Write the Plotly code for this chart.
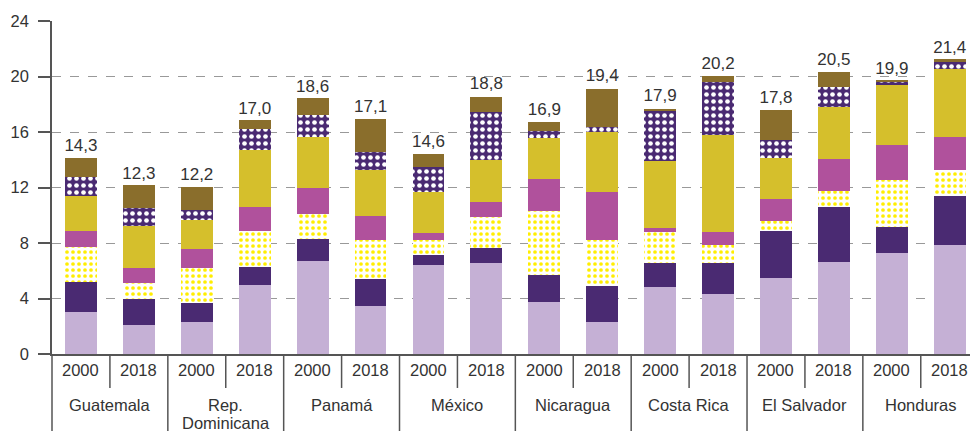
import plotly.graph_objects as go

countries = ["Guatemala", "Rep.<br>Dominicana", "Panamá", "México", "Nicaragua", "Costa Rica", "El Salvador", "Honduras"]
years = ["2000", "2018"]

# segment values per bar (bottom -> top), order: country x year
seg1 = [3.06, 2.11, 2.32, 4.95, 6.72, 3.49, 6.41, 6.53, 3.78, 2.32, 4.86, 4.33, 5.48, 6.65, 7.30, 7.89]
seg2 = [2.16, 1.86, 1.34, 1.34, 1.58, 1.89, 0.70, 1.13, 1.89, 2.61, 1.67, 2.20, 3.37, 3.95, 1.84, 3.47]
seg3 = [2.46, 1.17, 2.56, 2.56, 1.82, 2.83, 1.10, 2.22, 4.64, 3.30, 2.23, 1.36, 0.72, 1.17, 3.37, 1.92]
seg4 = [1.15, 1.06, 1.34, 1.75, 1.87, 1.74, 0.52, 1.05, 2.30, 3.42, 0.35, 0.87, 1.58, 2.32, 2.54, 2.39]
seg5 = [2.53, 3.06, 2.11, 4.11, 3.68, 3.30, 2.92, 3.04, 2.96, 4.33, 4.77, 7.03, 2.96, 3.69, 4.33, 4.90]
seg6 = [1.39, 1.24, 0.74, 1.49, 1.58, 1.34, 1.82, 3.49, 0.53, 0.36, 3.61, 3.78, 1.34, 1.48, 0.24, 0.48]
seg7 = [1.36, 1.70, 1.60, 0.67, 1.17, 2.37, 0.96, 1.06, 0.62, 2.77, 0.19, 0.45, 2.16, 1.07, 0.07, 0.22]
totals = [14.3, 12.3, 12.2, 17.0, 18.6, 17.1, 14.6, 18.8, 16.9, 19.4, 17.9, 20.2, 17.8, 20.5, 19.9, 21.4]
y_ticks = [0, 4, 8, 12, 16, 20, 24]

cats = [f"{c}|{y}" for c in countries for y in years]
year_labels = [y for _ in countries for y in years]

FONT = "Liberation Sans, Arial, sans-serif"
TXT = "#333333"
AX = "#555555"

segments = [
    (seg1, dict(color="#C5B0D5")),
    (seg2, dict(color="#4A2A72")),
    (seg3, dict(color="white", pattern=dict(shape=".", fgcolor="#FFEE00", bgcolor="white", size=6, solidity=0.3, fillmode="replace"))),
    (seg4, dict(color="#B0519C")),
    (seg5, dict(color="#D5BF2C")),
    (seg6, dict(color="#4A2A72", pattern=dict(shape=".", fgcolor="white", bgcolor="#4A2A72", size=7, solidity=0.35, fillmode="replace"))),
    (seg7, dict(color="#8A6E2C")),
]

fig = go.Figure()
for vals, mk in segments:
    mk = dict(mk)
    mk["line"] = dict(width=0)
    fig.add_trace(go.Bar(x=cats, y=vals, marker=mk, showlegend=False, hoverinfo="skip"))

fig.add_trace(go.Scatter(
    x=cats, y=totals, mode="text",
    text=[f"{t:.1f}".replace(".", ",") for t in totals],
    textposition="top center",
    textfont=dict(family=FONT, size=17, color=TXT),
    showlegend=False, hoverinfo="skip", cliponaxis=False,
))

n = len(cats)
fig.update_layout(
    barmode="stack",
    bargap=0.45,
    width=970, height=431,
    margin=dict(l=52, r=0, t=21, b=77, autoexpand=False),
    paper_bgcolor="white", plot_bgcolor="white",
    font=dict(family=FONT, size=16.5, color=TXT),
)
fig.update_xaxes(
    type="category", categoryorder="array", categoryarray=cats,
    range=[-0.5, n - 0.65], automargin=False,
    showticklabels=False, ticks="", showgrid=False,
    showline=True, linecolor=AX, linewidth=1.5,
)
fig.update_yaxes(
    range=[0, 24], tickvals=y_ticks, automargin=False,
    showline=True, linecolor=AX, linewidth=1.5,
    ticks="outside", ticklen=12, tickcolor=AX, tickwidth=1.5,
    ticklabelstandoff=6,
    showgrid=True, gridcolor="#999999", griddash="dash", gridwidth=1,
    zeroline=False,
    tickfont=dict(family=FONT, size=16.5, color=TXT),
)

# year labels
for i, yl in enumerate(year_labels):
    fig.add_annotation(x=i, y=-0.048, xref="x", yref="paper", text=yl, showarrow=False,
                       yanchor="middle", xanchor="center",
                       font=dict(family=FONT, size=16.5, color=TXT))
# country labels (multi-line names drawn line by line with tighter spacing)
for j, c in enumerate(countries):
    for k, line in enumerate(c.split("<br>")):
        fig.add_annotation(x=2 * j + 0.5, y=-0.153, xref="x", yref="paper", text=line, showarrow=False,
                           yanchor="middle", xanchor="center", yshift=-18 * k,
                           font=dict(family=FONT, size=16.5, color=TXT))

# separators: short between years, long between countries
for j in range(len(countries)):
    fig.add_shape(type="line", xref="x", yref="paper", x0=2 * j + 0.5, x1=2 * j + 0.5,
                  y0=0, y1=-0.102, line=dict(color=AX, width=1.5))
    if j > 0:
        fig.add_shape(type="line", xref="x", yref="paper", x0=2 * j - 0.5, x1=2 * j - 0.5,
                      y0=0, y1=-0.24, line=dict(color=AX, width=1.5))
# extend the y-axis line down through the label area
fig.add_shape(type="line", xref="paper", yref="paper", x0=0, x1=0, y0=0, y1=-0.24,
              line=dict(color=AX, width=1.5))

# remove the default page margin so the 970x431 figure fills the window exactly
fig.write_html("out.html", config={"displayModeBar": False},
               post_script="document.body.style.margin='0';document.body.style.overflow='hidden';")
